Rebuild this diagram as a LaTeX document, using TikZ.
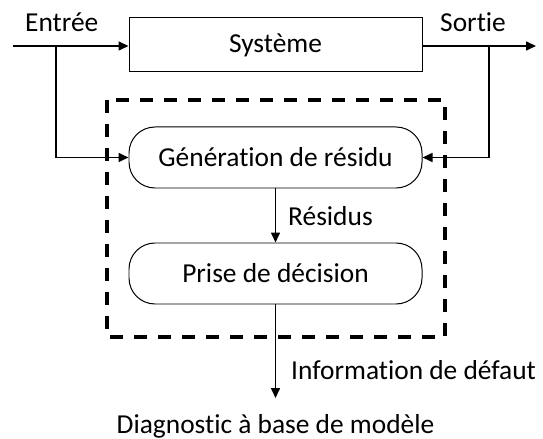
\documentclass[tikz,border=0pt]{standalone}
\usepackage{fontspec}
\setmainfont{Carlito}[Ligatures=NoCommon]
\usetikzlibrary{arrows.meta}

\begin{document}
\begin{tikzpicture}[x=1bp, y=-1bp,
    every node/.style={font=\fontsize{27.5}{33}\selectfont},
    block/.style={draw, line width=1pt, minimum width=293bp, minimum height=61bp, inner sep=0pt},
    arr/.style={line width=1.6pt, -{Triangle[length=10bp,width=9bp]}},
    frame/.style={line width=3.4pt, dash pattern=on 13bp off 11bp}]
                \useasboundingbox (0, 0) rectangle (543, 439);

                \node[block, minimum height=54bp] (sys) at (275.5, 45) {Système};
                \node[block, rounded corners=26bp] (gen) at (275.5, 157.5) {Génération de résidu};
                \node[block, rounded corners=26bp] (dec) at (275.5, 273.5) {Prise de décision};

                \draw[frame] (107, 100) rectangle (445, 337);

                \coordinate (in) at (13, 46);
                \coordinate (inb) at (56, 46);
                \coordinate (out) at (536, 46);
                \coordinate (outb) at (489, 46);
                \coordinate (res) at (275.5, 398);

                \node[anchor=base west, inner sep=0pt] (lin) at (25, 32) {Entrée};
                \node[anchor=base west, inner sep=0pt] (lout) at (440, 32) {Sortie};
                \node[anchor=base west, inner sep=0pt] (lres) at (288, 226) {Résidus};
                \node[anchor=base west, inner sep=0pt] (linf) at (291, 379) {Information de défaut};
                \node[anchor=base, inner sep=0pt] (ldiag) at (275.5, 433) {Diagnostic à base de modèle};

                \draw[arr] (in) -- (in -| sys.west);
                \draw[arr] (inb) |- (gen.west);
                \draw[arr] (sys.east |- out) -- (out);
                \draw[arr] (outb) |- (gen.east);
                \draw[arr] (gen) -- (dec);
                \draw[arr] (dec) -- (res);
            \end{tikzpicture}
\end{document}
